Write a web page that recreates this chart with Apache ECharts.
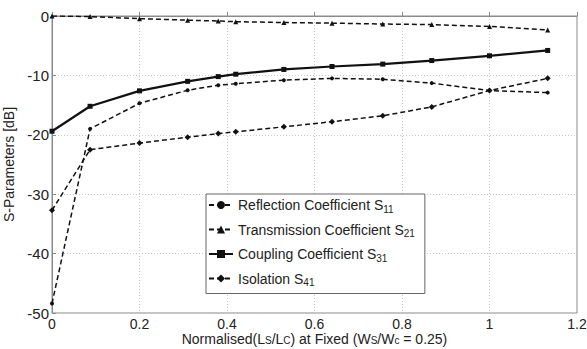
<!DOCTYPE html>
<html>
<head>
<meta charset="utf-8">
<script src="https://cdn.jsdelivr.net/npm/echarts@6/dist/echarts.min.js"></script>
<style>
  html, body { margin: 0; padding: 0; background: #fff; }
  #chart { width: 587px; height: 349px; }
</style>
</head>
<body>
<div id="chart"></div>
<script>
var xVals = [0, 0.087, 0.2, 0.31, 0.38, 0.42, 0.53, 0.64, 0.756, 0.868, 1.0, 1.133];
var s11 = [-48.4, -19.0, -14.7, -12.5, -11.65, -11.4, -10.8, -10.5, -10.65, -11.3, -12.55, -12.9];
var s21 = [0, -0.1, -0.45, -0.7, -0.85, -0.95, -1.1, -1.2, -1.35, -1.45, -1.75, -2.35];
var s31 = [-19.4, -15.2, -12.6, -11.0, -10.2, -9.8, -9.0, -8.5, -8.1, -7.5, -6.7, -5.8];
var s41 = [-32.7, -22.5, -21.4, -20.4, -19.8, -19.5, -18.65, -17.8, -16.8, -15.3, -12.55, -10.5];
var names = ['Reflection Coefficient S11', 'Transmission Coefficient S21', 'Coupling Coefficient S31', 'Isolation S41'];

function pairs(ys) {
  return xVals.map(function(x, i) { return [x, ys[i]]; });
}

var chart = echarts.init(document.getElementById('chart'), null, { renderer: 'svg' });
var font = 'Liberation Sans, Arial, sans-serif';
var ink = '#111';

chart.setOption({
  animation: false,
  textStyle: { fontFamily: font },
  grid: {
    left: 52, right: 10, top: 16, bottom: 36,
    outerBoundsMode: 'none', containLabel: false,
    show: true, borderColor: '#8a8a8a', borderWidth: 1
  },
  legend: {
    data: names,
    orient: 'vertical',
    left: 206,
    top: 194,
    width: 214,
    padding: [4, 10, 6, 2],
    itemWidth: 24,
    itemHeight: 10,
    itemGap: 8.5,
    backgroundColor: '#fff',
    borderColor: '#666',
    borderWidth: 1,
    formatter: function(n) {
      var base = n.slice(0, -2), sub = n.slice(-2);
      return '{t|' + base + '}{s|' + sub + '}';
    },
    textStyle: {
      color: '#222',
      rich: {
        t: { fontSize: 14, fontFamily: font, color: '#222' },
        s: { fontSize: 10, fontFamily: font, color: '#222', verticalAlign: 'bottom', padding: [8, 0, 0, 0] }
      }
    }
  },
  xAxis: {
    type: 'value',
    min: 0,
    max: 1.2,
    interval: 0.2,
    name: '{t|Normalised(L}{s|S}{t|/L}{s|C}{t|) at Fixed (W}{s|S}{t|/W}{s|c}{t| = 0.25)}',
    nameLocation: 'middle',
    nameMoveOverlap: false,
    nameGap: 18,
    nameTextStyle: {
      verticalAlign: 'top',
      rich: {
        t: { fontSize: 14, lineHeight: 15, fontFamily: font, color: '#222' },
        s: { fontSize: 10, lineHeight: 11, fontFamily: font, color: '#222', padding: [4, 0, 0, 0] }
      }
    },
    axisLine: { lineStyle: { color: '#8a8a8a' } },
    axisTick: { inside: true, length: 4, lineStyle: { color: '#8a8a8a' } },
    axisLabel: { color: '#222', fontSize: 14, lineHeight: 15, margin: 3 },
    splitLine: { show: true, lineStyle: { color: '#c8c8c8', type: [1, 2] } }
  },
  yAxis: {
    type: 'value',
    min: -50,
    max: 0,
    interval: 10,
    name: 'S-Parameters [dB]',
    nameLocation: 'middle',
    nameGap: 30,
    nameTextStyle: { fontSize: 14, color: '#222', fontFamily: font },
    axisLine: { show: true, lineStyle: { color: '#8a8a8a' } },
    axisTick: { show: true, inside: true, length: 4, lineStyle: { color: '#8a8a8a' } },
    axisLabel: { color: '#222', fontSize: 15, margin: 3 },
    splitLine: { show: true, lineStyle: { color: '#c8c8c8', type: [1, 2] } }
  },
  series: [
    {
      name: names[0], type: 'line', data: pairs(s11),
      symbol: 'circle', symbolSize: 4,
      itemStyle: { color: ink },
      lineStyle: { color: ink, width: 1.5, type: [5, 3] }
    },
    {
      name: names[1], type: 'line', data: pairs(s21),
      symbol: 'triangle', symbolSize: 5,
      itemStyle: { color: ink },
      lineStyle: { color: ink, width: 1.5, type: [5, 3] }
    },
    {
      name: names[2], type: 'line', data: pairs(s31),
      symbol: 'rect', symbolSize: 5,
      itemStyle: { color: ink },
      lineStyle: { color: ink, width: 2.2 }
    },
    {
      name: names[3], type: 'line', data: pairs(s41),
      symbol: 'diamond', symbolSize: 6,
      itemStyle: { color: ink },
      lineStyle: { color: ink, width: 1.5, type: [5, 3] }
    }
  ]
});
</script>
</body>
</html>
